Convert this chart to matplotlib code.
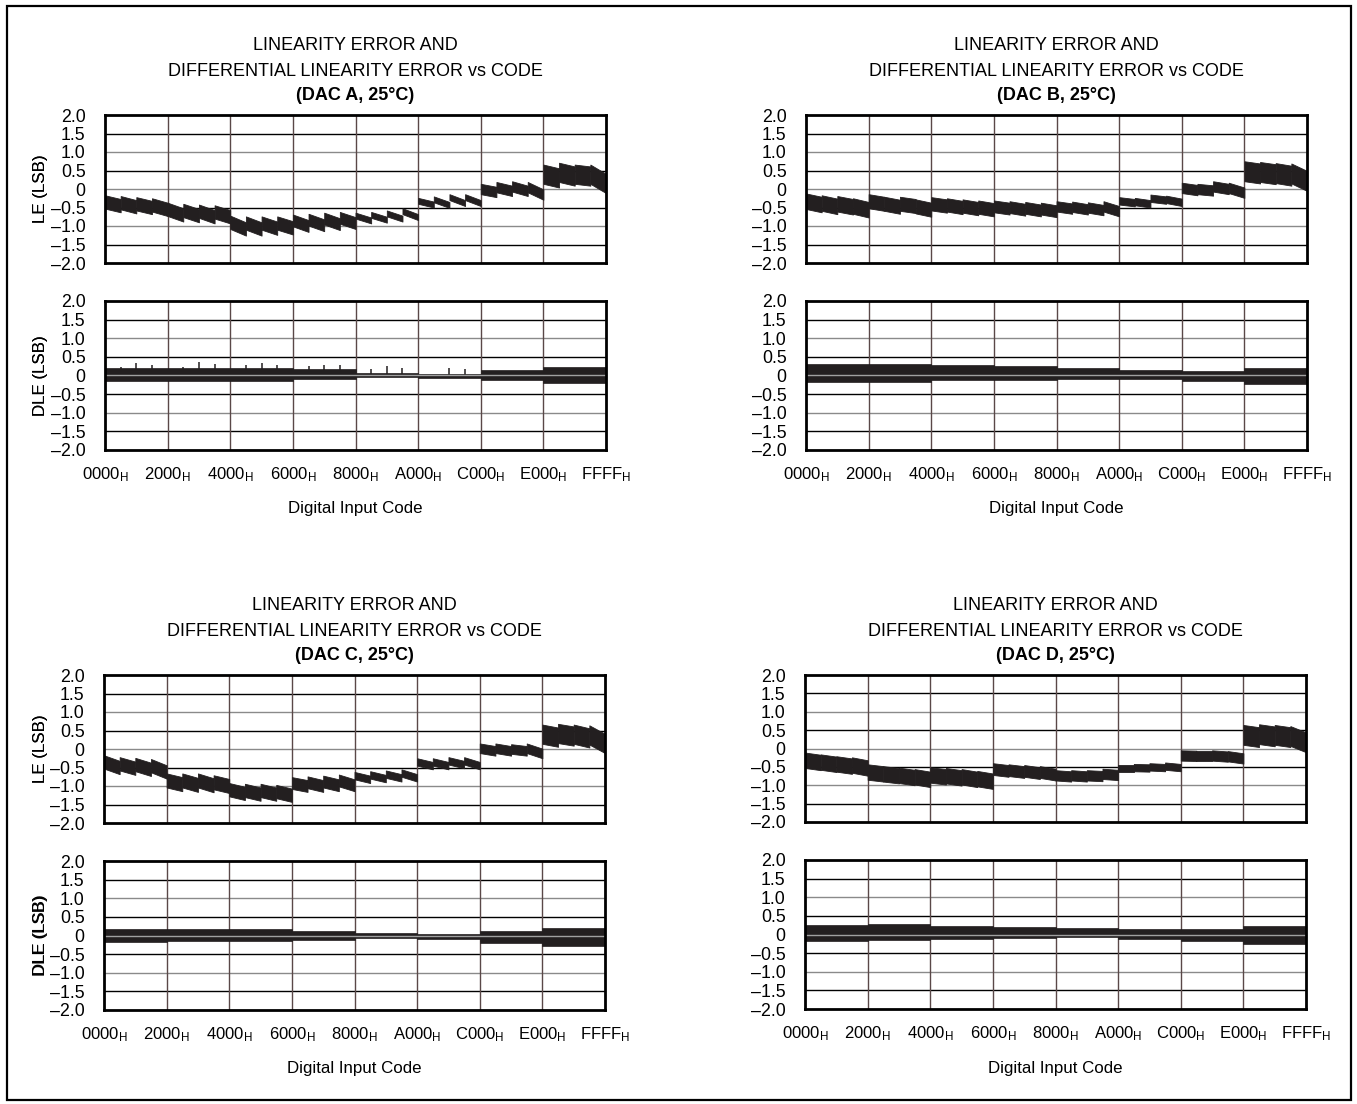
import matplotlib
matplotlib.use("Agg")
import matplotlib.pyplot as plt
from matplotlib.patches import Rectangle
import numpy as np

plt.rcParams['font.family'] = ['Liberation Sans', 'DejaVu Sans']
plt.rcParams['mathtext.default'] = 'regular'

# ---------------- data ----------------
dacs = ["A", "B", "C", "D"]
tick_codes = [0x0000, 0x2000, 0x4000, 0x6000, 0x8000, 0xA000, 0xC000, 0xE000, 0xFFFF]
tick_labels = ["0000", "2000", "4000", "6000", "8000", "A000", "C000", "E000", "FFFF"]
ytick_vals = [2.0, 1.5, 1.0, 0.5, 0.0, -0.5, -1.0, -1.5, -2.0]
ytick_labels = ["2.0", "1.5", "1.0", "0.5", "0", "\u20130.5", "\u20131.0", "\u20131.5", "\u20132.0"]

# LE: 32 sawtooth segments (each 0x0800 codes): centre at segment start / end (LSB)
le_start_A = [-0.35, -0.37, -0.40, -0.43, -0.55, -0.58, -0.60, -0.62,
              -0.90, -0.92, -0.92, -0.92, -0.85, -0.83, -0.80, -0.78,
              -0.72, -0.70, -0.66, -0.60, -0.32, -0.28, -0.22, -0.22,
              0.00, 0.05, 0.07, 0.05, 0.40, 0.45, 0.40, 0.40]
le_end_A = [-0.45, -0.48, -0.50, -0.55, -0.70, -0.72, -0.75, -0.75,
            -1.08, -1.08, -1.06, -1.05, -1.00, -0.98, -0.95, -0.92,
            -0.85, -0.83, -0.80, -0.76, -0.42, -0.43, -0.38, -0.38,
            -0.08, -0.05, -0.05, -0.15, 0.30, 0.35, 0.35, 0.15]
le_half_A = [0.18, 0.18, 0.18, 0.16, 0.08, 0.08, 0.14, 0.26]

le_start_B = [-0.33, -0.38, -0.40, -0.46, -0.33, -0.40, -0.40, -0.47,
              -0.40, -0.43, -0.46, -0.49, -0.47, -0.49, -0.51, -0.53,
              -0.47, -0.48, -0.50, -0.47, -0.32, -0.34, -0.25, -0.28,
              0.03, 0.00, 0.07, 0.03, 0.48, 0.46, 0.43, 0.42]
le_end_B = [-0.42, -0.47, -0.48, -0.56, -0.40, -0.48, -0.46, -0.56,
            -0.46, -0.50, -0.53, -0.56, -0.53, -0.56, -0.58, -0.60,
            -0.53, -0.55, -0.57, -0.60, -0.37, -0.40, -0.30, -0.36,
            -0.03, -0.04, 0.00, -0.10, 0.42, 0.40, 0.36, 0.22]
le_half_B = [0.21, 0.19, 0.18, 0.16, 0.14, 0.10, 0.14, 0.27]

le_start_C = [-0.35, -0.40, -0.42, -0.45, -0.85, -0.85, -0.85, -0.90,
              -1.10, -1.12, -1.12, -1.15, -0.92, -0.90, -0.88, -0.85,
              -0.72, -0.70, -0.68, -0.65, -0.35, -0.35, -0.32, -0.32,
              0.02, 0.02, 0.00, 0.02, 0.40, 0.42, 0.40, 0.38]
le_end_C = [-0.50, -0.52, -0.55, -0.62, -0.95, -0.97, -0.98, -1.00,
            -1.20, -1.22, -1.22, -1.25, -1.00, -1.00, -0.98, -0.98,
            -0.82, -0.80, -0.78, -0.78, -0.45, -0.45, -0.42, -0.45,
            -0.05, -0.05, -0.05, -0.12, 0.32, 0.35, 0.30, 0.15]
le_half_C = [0.18, 0.19, 0.18, 0.16, 0.10, 0.10, 0.13, 0.26]

le_start_D = [-0.32, -0.37, -0.42, -0.45, -0.64, -0.69, -0.73, -0.77,
              -0.72, -0.74, -0.77, -0.82, -0.56, -0.59, -0.61, -0.64,
              -0.73, -0.73, -0.73, -0.69, -0.55, -0.52, -0.50, -0.48,
              -0.19, -0.20, -0.19, -0.21, 0.37, 0.39, 0.37, 0.34]
le_end_D = [-0.38, -0.43, -0.48, -0.53, -0.69, -0.74, -0.79, -0.84,
            -0.77, -0.80, -0.84, -0.89, -0.61, -0.64, -0.67, -0.71,
            -0.76, -0.76, -0.75, -0.72, -0.55, -0.53, -0.52, -0.52,
            -0.20, -0.20, -0.22, -0.27, 0.31, 0.33, 0.31, 0.17]
le_half_D = [0.21, 0.21, 0.21, 0.16, 0.14, 0.10, 0.14, 0.27]

# DLE: envelope per 0x2000 block (LSB)
dle_hi_A = [0.21, 0.21, 0.21, 0.17, 0.08, 0.05, 0.15, 0.24]
dle_lo_A = [-0.15, -0.14, -0.14, -0.10, -0.04, -0.06, -0.13, -0.21]
dle_hi_B = [0.32, 0.32, 0.27, 0.26, 0.21, 0.16, 0.12, 0.21]
dle_lo_B = [-0.18, -0.17, -0.12, -0.12, -0.09, -0.09, -0.15, -0.23]
dle_hi_C = [0.18, 0.18, 0.18, 0.12, 0.07, 0.03, 0.13, 0.21]
dle_lo_C = [-0.18, -0.16, -0.14, -0.11, -0.07, -0.09, -0.20, -0.27]
dle_hi_D = [0.25, 0.27, 0.23, 0.21, 0.18, 0.14, 0.16, 0.23]
dle_lo_D = [-0.18, -0.14, -0.12, -0.09, -0.07, -0.11, -0.18, -0.25]

# DLE spikes visible on DAC A
spike_code_A = [2048, 4096, 6144, 10240, 12288, 14336, 18432, 20480, 22528,
                26624, 28672, 30720, 34816, 36864, 38912, 45056, 47104]
spike_val_A = [0.23, 0.34, 0.28, 0.23, 0.37, 0.32, 0.28, 0.33, 0.28,
               0.25, 0.29, 0.28, 0.18, 0.26, 0.21, 0.21, 0.18]

le_start = {"A": le_start_A, "B": le_start_B, "C": le_start_C, "D": le_start_D}
le_end = {"A": le_end_A, "B": le_end_B, "C": le_end_C, "D": le_end_D}
le_half = {"A": le_half_A, "B": le_half_B, "C": le_half_C, "D": le_half_D}
dle_hi = {"A": dle_hi_A, "B": dle_hi_B, "C": dle_hi_C, "D": dle_hi_D}
dle_lo = {"A": dle_lo_A, "B": dle_lo_B, "C": dle_lo_C, "D": dle_lo_D}

# ---------------- figure ----------------
W, H = 1357, 1104
fig = plt.figure(figsize=(W / 100, H / 100), dpi=100)
fig.patch.set_facecolor("white")
fig.add_artist(Rectangle((7 / W, 1 - 1100 / H), (1351 - 7) / W, (1100 - 6) / H,
                         transform=fig.transFigure, fill=False, lw=1.6, ec="black"))

INK = "#231f20"
FS_T = 13.0
FS_YT = 12.8
FS_XT = 12.0
FS_L = 12.2

# pixel layout: (axes left, LE top, LE bottom, DLE top, DLE bottom)
layout = {
    "A": (105, 115, 263, 301, 450),
    "B": (806, 115, 263, 301, 450),
    "C": (104, 675, 823, 861, 1010),
    "D": (805, 675, 822, 860, 1009),
}
AX_W = 501


def make_ax(left, top, bottom):
    return fig.add_axes([left / W, 1 - bottom / H, AX_W / W, (bottom - top) / H])


def style_ax(ax, show_x):
    ax.set_xlim(0, 0xFFFF)
    ax.set_ylim(-2, 2)
    for i, y in enumerate([1.5, 1.0, 0.5, 0.0, -0.5, -1.0, -1.5]):
        ax.axhline(y, color="#000000" if i % 2 == 0 else "#8a8a8a", lw=1.0, zorder=0.5)
    for c in tick_codes[1:-1]:
        ax.axvline(c, color="#5a4848", lw=1.0, zorder=0.5)
    ax.set_yticks(ytick_vals)
    ax.set_yticklabels(ytick_labels, fontsize=FS_YT)
    ax.set_xticks(tick_codes)
    if show_x:
        ax.set_xticklabels([t + "$_{H}$" for t in tick_labels], fontsize=FS_XT)
    else:
        ax.set_xticklabels([])
    ax.tick_params(axis="both", length=0)
    ax.tick_params(axis="y", pad=14)
    ax.tick_params(axis="x", pad=11)
    for s in ax.spines.values():
        s.set_linewidth(2.0)
        s.set_color("black")
        s.set_zorder(5)


for d in dacs:
    left, lt, lb, dt, db = layout[d]
    cx = (left + AX_W / 2) / W

    # titles
    ttop = lt - 69
    fig.text(cx, 1 - ttop / H, "LINEARITY ERROR AND", ha="center", va="center", fontsize=FS_T)
    fig.text(cx, 1 - (ttop + 25) / H, "DIFFERENTIAL LINEARITY ERROR vs CODE",
             ha="center", va="center", fontsize=FS_T)
    fig.text(cx, 1 - (ttop + 49) / H, "(DAC %s, 25\u00b0C)" % d, ha="center", va="center",
             fontsize=FS_T, fontweight="bold")

    # LE axes
    ax1 = make_ax(left, lt, lb)
    style_ax(ax1, False)
    for i in range(32):
        x0 = i * 0x800
        x1 = min((i + 1) * 0x800, 0xFFFF)
        h = le_half[d][i // 4]
        s, e = le_start[d][i], le_end[d][i]
        ax1.fill_between([x0, x1], [s - h, e - h], [s + h, e + h],
                         color=INK, lw=0.6, ec=INK, zorder=2)
    fig.text(40 / W, 1 - (lt + lb) / 2 / H, "LE (LSB)", rotation=90,
             ha="center", va="center", fontsize=FS_L)

    # DLE axes
    ax2 = make_ax(left, dt, db)
    style_ax(ax2, True)
    for j in range(8):
        x0 = j * 0x2000
        x1 = min((j + 1) * 0x2000, 0xFFFF)
        ax2.fill_between([x0, x1], [dle_lo[d][j]] * 2, [dle_hi[d][j]] * 2,
                         color=INK, lw=0.5, ec=INK, zorder=2)
    if d == "A":
        ax2.vlines(spike_code_A, 0, spike_val_A, color=INK, lw=1.1, zorder=2)
    ax2.axhline(0, color="#a0a0a0", lw=1.0, zorder=3)
    fig.text(40 / W, 1 - (dt + db) / 2 / H, "DLE (LSB)", rotation=90,
             ha="center", va="center", fontsize=FS_L)

    fig.text(cx, 1 - (db + 59) / H, "Digital Input Code", ha="center", va="center", fontsize=FS_L)

fig.savefig("out.png", dpi=100, facecolor="white")
